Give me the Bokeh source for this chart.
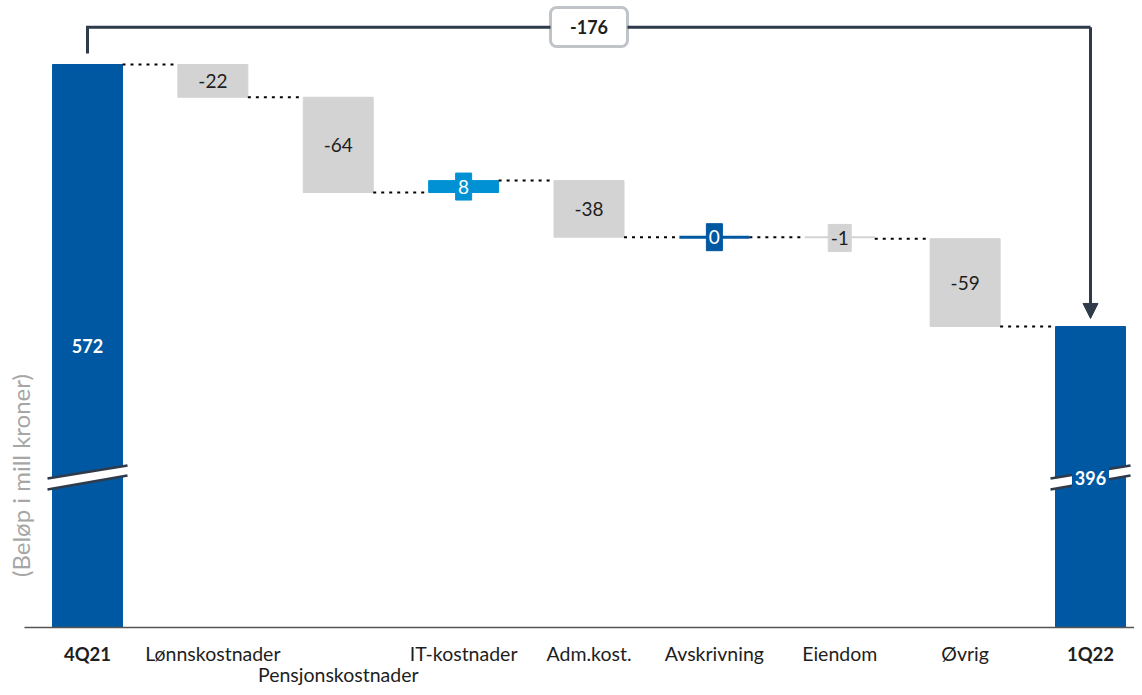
import numpy as np
from bokeh.plotting import figure
from bokeh.models import Range1d, ColumnDataSource, BoxAnnotation, Label, Arrow, NormalHead
from bokeh.core.properties import value
from bokeh.embed import file_html
from bokeh.resources import INLINE

# ---------------- data ----------------
categories = ["4Q21", "Lønnskostnader", "Pensjonskostnader", "IT-kostnader",
              "Adm.kost.", "Avskrivning", "Eiendom", "Øvrig", "1Q22"]
start_value = 572
changes = [-22, -64, 8, -38, 0, -1, -59]
end_value = 396
total_change = -176
y_title = "(Beløp i mill kroner)"
visible_floor = 193.8   # value shown at the (broken) baseline

# ---------------- styling ----------------
FONT = "Lato"
DARK_BLUE = "#0058A3"
LIGHT_BLUE = "#0091D5"
GREY = "#D3D3D3"
SLATE = "#2F3A4A"
TXT = "#1E1E1E"
BW = 0.558           # bar width (category units)
HW = BW / 2
X_LO, X_HI = -0.6939, 8.3509
Y_LO, Y_HI = 153.5, 614.99

levels = [start_value]
for c in changes:
    levels.append(levels[-1] + c)

p = figure(width=1134, height=687, output_backend="svg", toolbar_location=None,
           x_range=Range1d(X_LO, X_HI), y_range=Range1d(Y_LO, Y_HI),
           min_border=0)
p.axis.visible = False
p.grid.visible = False
p.outline_line_color = None

# total bars
tot_x = [0, 8]
tot_top = [start_value, end_value]
p.vbar(x=tot_x, top=tot_top, bottom=visible_floor, width=BW, color=DARK_BLUE)

# change bars
ci = list(range(1, 8))
bot, top, cols, txtcols = [], [], [], []
for k, c in enumerate(changes):
    a, b = levels[k], levels[k + 1]
    bot.append(min(a, b)); top.append(max(a, b))
    if c > 0:
        cols.append(LIGHT_BLUE); txtcols.append("white")
    elif c == 0:
        cols.append(DARK_BLUE); txtcols.append("white")
    else:
        cols.append(GREY); txtcols.append(TXT)
src = ColumnDataSource(dict(x=ci, bottom=bot, top=top, color=cols,
                            mid=[(a + b) / 2 for a, b in zip(bot, top)],
                            label=[str(c) for c in changes], tcol=txtcols))
big = [k for k, c in enumerate(changes) if abs(c) >= 10]
small = [k for k, c in enumerate(changes) if abs(c) < 10]
p.vbar(x=[ci[k] for k in big], bottom=[bot[k] for k in big], top=[top[k] for k in big],
       width=BW, color=[cols[k] for k in big])
for k in small:
    if changes[k] == 0:
        p.segment(x0=[ci[k] - HW], x1=[ci[k] + HW], y0=[levels[k]], y1=[levels[k]],
                  line_color=cols[k], line_width=3)
    elif changes[k] > 0:
        p.vbar(x=[ci[k]], bottom=[bot[k]], top=[top[k]], width=BW, color=cols[k])
    else:
        p.segment(x0=[ci[k] - HW], x1=[ci[k] + HW], y0=[levels[k]], y1=[levels[k]],
                  line_color=cols[k], line_width=2)
p.rect(x=[ci[k] for k in small], y=[(bot[k] + top[k]) / 2 for k in small],
       width=[16 if len(str(changes[k])) == 1 else 23 for k in small], height=27,
       width_units="screen", height_units="screen",
       color=[cols[k] for k in small])

p.text(x="x", y="mid", text="label", source=src, text_color="tcol",
       text_font=value(FONT), text_font_size="19px",
       text_align="center", text_baseline="middle")

# dotted connectors
cx0 = [k + HW for k in range(8)]
cx1 = [k + 1 - HW for k in range(8)]
p.segment(x0=cx0, x1=cx1, y0=levels, y1=levels, line_color="black",
          line_width=2, line_dash="3 5")

# broken-axis marks
brk_lo = [286.5, 295.9]
brk_hi = [293.9, 302.6]
for xc in tot_x:
    xs = [xc - 0.319, xc + 0.319, xc + 0.319, xc - 0.319]
    ys = [brk_hi[0], brk_hi[1], brk_lo[1], brk_lo[0]]
    p.patch(xs, ys, color="white")
    p.line([xc - 0.319, xc + 0.319], brk_hi, line_color=SLATE, line_width=2.5)
    p.line([xc - 0.319, xc + 0.319], brk_lo, line_color=SLATE, line_width=2.5)

# total labels
p.rect(x=[8], y=[294.5], width=36, height=24, width_units="screen",
       height_units="screen", color=DARK_BLUE)
p.text(x=tot_x, y=[(start_value + visible_floor) / 2, 294.5],
       text=[str(start_value), str(end_value)], text_color="white",
       text_font=value(FONT), text_font_style="bold", text_font_size="18px",
       text_align="center", text_baseline="middle")

# baseline
p.line([-0.5025, X_HI], [visible_floor, visible_floor], line_color="#555555", line_width=1.5)

# category labels
lab_y = [176.3] * 9
lab_y[2] = 162.3
styles = ["bold"] + ["normal"] * 7 + ["bold"]
sizes = ["18.5px"] + ["19.5px"] * 7 + ["18.5px"]
p.text(x=list(range(9)), y=lab_y, text=categories, text_color=TXT,
       text_font=value(FONT), text_font_size=sizes,
       text_font_style=styles, text_align="center", text_baseline="middle")

# y title
p.text(x=[-0.534], y=[295.9], text=[y_title], angle=np.pi / 2,
       text_color="#A6A6A6", text_font=value(FONT), text_font_size="24px",
       text_align="center", text_baseline="middle")

# bracket with total change
br_top = start_value + 25
p.line([0, 0, 8], [start_value + 7.4, br_top, br_top], line_color=SLATE,
       line_width=3, line_join="miter")
p.add_layout(Arrow(end=NormalHead(size=15, fill_color=SLATE, line_color=SLATE),
                   x_start=8, y_start=br_top, x_end=8, y_end=end_value + 5.4,
                   line_color=SLATE, line_width=3))
p.add_layout(BoxAnnotation(left=4 - 0.307, right=4 + 0.307, bottom=584.1, top=610.3,
                           fill_color="white", fill_alpha=1, line_color=SLATE,
                           line_width=3, border_radius=6))
p.add_layout(Label(x=4, y=br_top, text=str(total_change), text_align="center",
                   text_baseline="middle", text_font=FONT, text_font_style="bold",
                   text_font_size="18px", text_color=TXT))

open("out.html", "w").write(file_html(p, INLINE))
